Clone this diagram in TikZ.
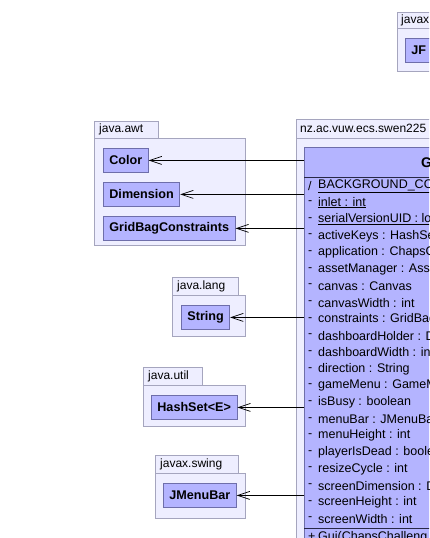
\documentclass[tikz,border=0pt]{standalone}
\usepackage{fontspec}
\setmainfont{Liberation Sans}
\usetikzlibrary{arrows.meta}
\definecolor{clsfill}{RGB}{180,180,255}
\definecolor{clsline}{RGB}{110,110,170}
\definecolor{sepline}{RGB}{40,40,70}
\definecolor{pkgfill}{RGB}{238,238,255}
\definecolor{pkgline}{RGB}{165,165,190}
\tikzset{
  pkg/.style={draw=pkgline, fill=pkgfill, line width=0.8pt},
  pkglabel/.style={anchor=west, inner sep=0pt, font=\fontsize{12}{14}\selectfont},
  cls/.style={draw=clsline, fill=clsfill, line width=0.8pt, anchor=north west,
    minimum height=24pt, inner xsep=6pt, inner ysep=0pt,
    font=\fontsize{12.6}{14}\selectfont\bfseries},
  attr/.style={anchor=west, inner sep=0pt, font=\fontsize{12.5}{14}\selectfont},
  dep/.style={draw, line width=0.7pt, -{Straight Barb[length=12pt,width=8pt]}}
}

\begin{document}
\begin{tikzpicture}[x=1pt,y=-1pt]
\useasboundingbox (0,0) rectangle (429,538);
\clip (0,0) rectangle (429,538);
% javax (top right)
\draw[pkg] (397,12) rectangle (445,28);
\draw[pkg] (397,28) rectangle (480,71);
\node[pkglabel] (xlabel) at (401,20) {javax};
\node[cls] (jf) at (405,38) {JF};
% java.awt
\draw[pkg] (94,121) rectangle (158,138);
\draw[pkg] (94,138) rectangle (245,245);
\node[pkglabel] (awtlabel) at (99,129.5) {java.awt};
\node[cls] (color) at (103,148) {Color};
\node[cls] (dimension) at (103,182) {Dimension};
\node[cls] (gridbag) at (103,216) {GridBagConstraints};
% java.lang
\draw[pkg] (172,277) rectangle (238,295);
\draw[pkg] (172,295) rectangle (245,336);
\node[pkglabel] (langlabel) at (177,286) {java.lang};
\node[cls] (string) at (181,305) {String};
% java.util
\draw[pkg] (143,367) rectangle (202,385);
\draw[pkg] (143,385) rectangle (245,426);
\node[pkglabel] (utillabel) at (148,376) {java.util};
\node[cls] (hashset) at (151,395) {HashSet<E>};
% javax.swing
\draw[pkg] (155,455) rectangle (238,473);
\draw[pkg] (155,473) rectangle (245,518);
\node[pkglabel] (swinglabel) at (160,464) {javax.swing};
\node[cls] (jmenubar) at (163,483) {JMenuBar};
% main package and class
\draw[pkg] (296,119) rectangle (520,138);
\draw[pkg] (296,138) rectangle (600,600);
\node[pkglabel] (mainlabel) at (300,128.5) {nz.ac.vuw.ecs.swen225};
\node[cls, minimum width=270pt, minimum height=460pt] (gui) at (304,147) {};
\node[attr, font=\fontsize{14}{16}\selectfont\bfseries] (guiname) at (421,162) {Gui};
\draw[sepline, line width=0.8pt] (304,177) -- (574,177);
\node[attr] (m1) at (308,186) {/};
\node[attr] (a1) at (318,186) {\underline{BACKGROUND\_CO}};
\foreach \t [count=\i from 2] in {\underline{inlet : int}, \underline{serialVersionUID : lo},
  activeKeys : HashSe, application : ChapsC, assetManager : Ass, canvas : Canvas,
  canvasWidth : int, constraints : GridBag, dashboardHolder : D, dashboardWidth : in,
  direction : String, gameMenu : GameM, isBusy : boolean, menuBar : JMenuBar,
  menuHeight : int, playerIsDead : boole, resizeCycle : int, screenDimension : D,
  screenHeight : int, screenWidth : int}
{
  \node[attr] (m\i) at (308,{186+(\i-1)*16.65}) {-};
  \node[attr] (a\i) at (318,{186+(\i-1)*16.65}) {\t};
}
\draw[sepline, line width=0.8pt] (304,528) -- (574,528);
\node[attr] (m22) at (308,537) {+};
\node[attr] (a22) at (318,537) {Gui(ChapsChalleng};
% dependencies
\draw[dep] (gui.west |- color.east) -- (color.east);
\draw[dep] (gui.west |- dimension.east) -- (dimension.east);
\draw[dep] (gui.west |- gridbag.east) -- (gridbag.east);
\draw[dep] (gui.west |- string.east) -- (string.east);
\draw[dep] (gui.west |- hashset.east) -- (hashset.east);
\draw[dep] (gui.west |- jmenubar.east) -- (jmenubar.east);
\end{tikzpicture}
\end{document}
